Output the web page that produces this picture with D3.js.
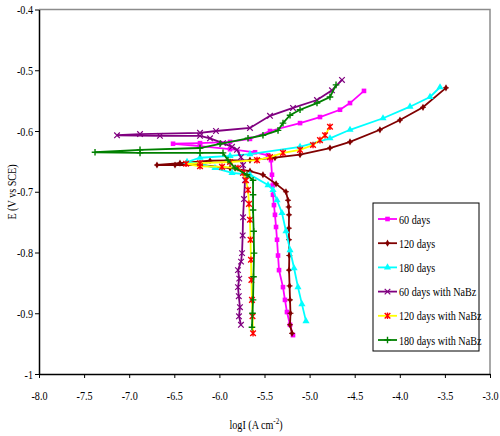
<!DOCTYPE html>
<html>
<head>
<meta charset="utf-8">
<script src="https://cdn.jsdelivr.net/npm/d3@7"></script>
<style>
  body { margin: 0; background: #fff; }
  svg { display: block; }
</style>
</head>
<body>
<svg width="500" height="436"></svg>
<script>
// series: [logI, E] pairs
const seriesNames = ["60 days", "120 days", "180 days", "60 days with NaBz", "120 days with NaBz", "180 days with NaBz"];

const days60 = [[-5.184,-0.936],[-5.217,-0.919],[-5.251,-0.898],[-5.273,-0.878],[-5.295,-0.857],[-5.339,-0.829],
  [-5.350,-0.805],[-5.361,-0.779],[-5.372,-0.758],[-5.384,-0.738],[-5.395,-0.722],[-5.406,-0.705],[-5.411,-0.690],
  [-5.417,-0.672],[-5.428,-0.648],[-5.461,-0.640],[-5.605,-0.635],[-5.882,-0.630],
  [-6.215,-0.625],[-6.514,-0.621],[-6.215,-0.620],[-5.882,-0.618],[-5.661,-0.613],[-5.439,-0.600],[-5.106,-0.587],
  [-4.885,-0.577],[-4.663,-0.565],[-4.552,-0.554],[-4.397,-0.534]];

const days120 = [[-5.195,-0.933],[-5.217,-0.919],[-5.212,-0.900],[-5.217,-0.878],[-5.222,-0.855],[-5.228,-0.829],
  [-5.225,-0.805],[-5.228,-0.779],[-5.230,-0.760],[-5.228,-0.738],[-5.232,-0.725],
  [-5.239,-0.714],[-5.262,-0.700],[-5.372,-0.687],[-5.517,-0.672],[-5.661,-0.666],[-5.882,-0.661],[-6.215,-0.656],
  [-6.492,-0.656],[-6.692,-0.656],[-6.437,-0.653],[-6.104,-0.649],[-5.661,-0.648],[-5.384,-0.644],[-5.106,-0.639],
  [-4.774,-0.628],[-4.552,-0.618],[-4.220,-0.598],[-3.998,-0.582],[-3.743,-0.561],[-3.488,-0.529]];

const days180 = [[-5.040,-0.913],[-5.085,-0.885],[-5.129,-0.857],[-5.172,-0.826],[-5.217,-0.796],[-5.262,-0.765],
  [-5.306,-0.735],[-5.361,-0.714],[-5.406,-0.697],
  [-5.461,-0.689],[-5.661,-0.672],[-5.860,-0.669],[-6.049,-0.661],[-6.215,-0.654],[-6.359,-0.651],[-6.215,-0.644],
  [-5.882,-0.641],[-5.661,-0.638],[-5.106,-0.626],[-4.774,-0.612],[-4.552,-0.598],[-4.186,-0.579],[-3.887,-0.560],
  [-3.665,-0.544],[-3.554,-0.528]];

const days60NaBz = [[-5.761,-0.919],[-5.783,-0.905],[-5.772,-0.890],[-5.785,-0.872],[-5.794,-0.857],[-5.780,-0.843],
  [-5.794,-0.829],[-5.760,-0.815],[-5.749,-0.801],[-5.742,-0.772],[-5.738,-0.742],[-5.727,-0.712],
  [-5.716,-0.681],[-5.738,-0.656],[-5.761,-0.643],[-5.805,-0.631],[-5.860,-0.626],[-5.960,-0.620],[-6.104,-0.612],
  [-6.215,-0.608],[-6.659,-0.608],[-7.135,-0.607],[-6.880,-0.605],[-6.215,-0.603],[-6.038,-0.600],[-5.661,-0.595],
  [-5.439,-0.575],[-5.184,-0.562],[-4.918,-0.549],[-4.752,-0.533],[-4.641,-0.516]];

const days120NaBz = [[-5.627,-0.933],[-5.633,-0.905],[-5.639,-0.878],[-5.645,-0.845],[-5.650,-0.812],[-5.655,-0.779],
  [-5.661,-0.746],[-5.672,-0.720],[-5.683,-0.697],[-5.705,-0.681],
  [-5.738,-0.669],[-5.794,-0.661],[-5.971,-0.659],[-6.215,-0.658],[-6.370,-0.654],[-6.215,-0.653],[-5.882,-0.651],
  [-5.583,-0.648],[-5.439,-0.643],[-5.295,-0.636],[-5.106,-0.631],[-4.962,-0.623],[-4.885,-0.615],[-4.829,-0.607],
  [-4.774,-0.593]];

const days180NaBz = [[-5.639,-0.923],[-5.633,-0.900],[-5.627,-0.878],[-5.622,-0.840],[-5.616,-0.801],[-5.620,-0.765],
  [-5.627,-0.730],[-5.627,-0.705],[-5.627,-0.681],[-5.694,-0.672],
  [-5.827,-0.661],[-5.905,-0.648],[-5.960,-0.636],[-6.215,-0.636],[-6.880,-0.636],[-7.379,-0.635],[-6.880,-0.631],
  [-6.215,-0.628],[-5.993,-0.621],[-5.683,-0.612],[-5.517,-0.607],[-5.350,-0.599],[-5.295,-0.587],[-5.217,-0.574],
  [-5.106,-0.565],[-4.918,-0.554],[-4.774,-0.544],[-4.707,-0.524]];

const xTickValues = [-8.0, -7.5, -7.0, -6.5, -6.0, -5.5, -5.0, -4.5, -4.0, -3.5, -3.0];
const yTickValues = [-1, -0.9, -0.8, -0.7, -0.6, -0.5, -0.4];

const font = '"Liberation Serif", "Times New Roman", serif';
const squeeze = 0.78;

const plot = { left: 39, right: 490, top: 9.5, bottom: 374 };

const x = d3.scaleLinear().domain([-8, -3]).range([plot.left, plot.right]);
const y = d3.scaleLinear().domain([-1, -0.4]).range([plot.bottom, plot.top]);

const svg = d3.select('svg');

// grey frame top + right
svg.append('path')
   .attr('d', `M${plot.left},${plot.top}H${plot.right}V${plot.bottom}`)
   .attr('fill', 'none')
   .attr('stroke', '#8c8c8c')
   .attr('stroke-width', 1.5);

// axes
const xAxis = svg.append('g')
   .attr('transform', `translate(0,${plot.bottom})`)
   .call(d3.axisBottom(x).tickValues(xTickValues).tickSize(4).tickSizeOuter(0).tickPadding(13)
          .tickFormat(d => d.toFixed(1)));

const yAxis = svg.append('g')
   .attr('transform', `translate(${plot.left},0)`)
   .call(d3.axisLeft(y).tickValues(yTickValues).tickSize(4).tickSizeOuter(0)
          .tickFormat(d => String(+d.toFixed(1))));

[xAxis, yAxis].forEach(ax => {
  ax.attr('font-family', font).attr('font-size', 13);
  ax.select('.domain').attr('stroke', '#000').attr('stroke-width', 1.5);
  ax.selectAll('.tick line').attr('stroke', '#000');
  ax.selectAll('.tick text').attr('fill', '#000');
});
xAxis.selectAll('.tick text').attr('transform', `scale(${squeeze},1)`);
yAxis.selectAll('.tick text').attr('transform', `scale(${squeeze},1)`).attr('x', -6 / squeeze);

// marker shapes
const markerDefs = [
  { line: '#ff00ff', mark: '#ff00ff', shape: 'square' },
  { line: '#800000', mark: '#800000', shape: 'diamond' },
  { line: '#00ffff', mark: '#00ffff', shape: 'triangle' },
  { line: '#800080', mark: '#800080', shape: 'cross' },
  { line: '#ffff00', mark: '#ff0000', shape: 'star' },
  { line: '#008000', mark: '#008000', shape: 'plus' }
];

function drawMarker(g, shape, color) {
  if (shape === 'square') {
    g.append('rect').attr('x', -2.3).attr('y', -2.3).attr('width', 4.6).attr('height', 4.6).attr('fill', color);
  } else if (shape === 'diamond') {
    g.append('path').attr('d', d3.symbol(d3.symbolDiamond, 15)()).attr('fill', color);
    g.append('path').attr('d', 'M-3,0H3').attr('stroke', color).attr('stroke-width', 1);
  } else if (shape === 'triangle') {
    g.append('path').attr('d', d3.symbol(d3.symbolTriangle, 22)()).attr('fill', color);
  } else if (shape === 'cross') {
    g.append('path').attr('d', 'M-2.8,-2.8L2.8,2.8M-2.8,2.8L2.8,-2.8').attr('stroke', color).attr('stroke-width', 1.2);
  } else if (shape === 'star') {
    g.append('path').attr('d', 'M-2.8,-2.8L2.8,2.8M-2.8,2.8L2.8,-2.8M0,-3.3V3.3').attr('stroke', color).attr('stroke-width', 1.4);
  } else if (shape === 'plus') {
    g.append('path').attr('d', 'M-3.3,0H3.3M0,-3.3V3.3').attr('stroke', color).attr('stroke-width', 1.4);
  }
}

const allSeries = [days60, days120, days180, days60NaBz, days120NaBz, days180NaBz];

const line = d3.line().x(d => x(d[0])).y(d => y(d[1]));

allSeries.forEach((data, i) => {
  const def = markerDefs[i];
  const g = svg.append('g');
  g.append('path')
   .attr('d', line(data))
   .attr('fill', 'none')
   .attr('stroke', def.line)
   .attr('stroke-width', 1.8);
  g.selectAll('g.pt')
   .data(data)
   .join('g')
   .attr('class', 'pt')
   .attr('transform', d => `translate(${x(d[0])},${y(d[1])})`)
   .each(function () { drawMarker(d3.select(this), def.shape, def.mark); });
});

// legend
const legend = svg.append('g').attr('transform', 'translate(373,203)');
legend.append('rect')
      .attr('width', 106).attr('height', 148)
      .attr('fill', '#fff').attr('stroke', '#000').attr('stroke-width', 1);

seriesNames.forEach((name, i) => {
  const def = markerDefs[i];
  const row = legend.append('g').attr('transform', `translate(0,${16 + i * 24.2})`);
  row.append('line').attr('x1', 5).attr('x2', 24).attr('stroke', def.line).attr('stroke-width', 1.8);
  drawMarker(row.append('g').attr('transform', 'translate(14.5,0)'), def.shape, def.mark);
  row.append('text')
     .attr('transform', `translate(26,4.5) scale(${squeeze},1)`)
     .attr('font-family', font).attr('font-size', 13)
     .text(name);
});

// axis titles
svg.append('text')
   .attr('transform', `translate(16,192) rotate(-90) scale(${squeeze},1)`)
   .attr('text-anchor', 'middle')
   .attr('font-family', font).attr('font-size', 13)
   .text('E (V vs SCE)');

const xTitle = svg.append('text')
   .attr('transform', `translate(256,429) scale(${squeeze},1)`)
   .attr('text-anchor', 'middle')
   .attr('font-family', font).attr('font-size', 13);
xTitle.append('tspan').text('logI (A cm');
xTitle.append('tspan').attr('font-size', 9).attr('dy', -5).text('-2');
xTitle.append('tspan').attr('dy', 5).text(')');
</script>
</body>
</html>
